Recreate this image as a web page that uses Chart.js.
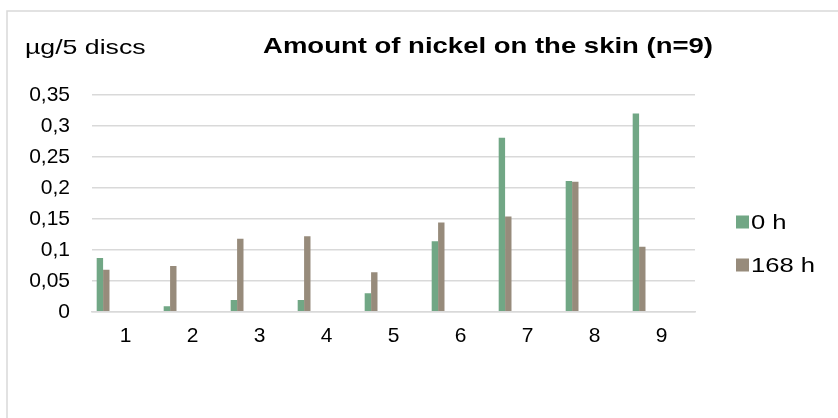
<!DOCTYPE html>
<html>
<head>
<meta charset="utf-8">
<script src="https://cdn.jsdelivr.net/npm/chart.js@4"></script>
<style>
  html, body { margin: 0; padding: 0; background: #fff; overflow: hidden; }
  canvas { display: block; }
</style>
</head>
<body>
<canvas id="nickelChart" width="838" height="418"></canvas>
<script>
// data
var categories = ['1', '2', '3', '4', '5', '6', '7', '8', '9'];
var nickel0h   = [0.087, 0.009, 0.019, 0.019, 0.030, 0.114, 0.281, 0.211, 0.320];
var nickel168h = [0.068, 0.074, 0.118, 0.122, 0.064, 0.144, 0.154, 0.210, 0.105];
var yTicks     = [0, 0.05, 0.1, 0.15, 0.2, 0.25, 0.3, 0.35];
var seriesNames  = ['0 h', '168 h'];
var seriesColors = ['#71a785', '#978b7b'];

var FONT = '"Liberation Sans", Arial, sans-serif';

// the original sheet keeps room for more series, bars sit on the left of each slot
var emptySlots = 7;

var datasets = [
    { label: seriesNames[0], data: nickel0h, backgroundColor: seriesColors[0] },
    { label: seriesNames[1], data: nickel168h, backgroundColor: seriesColors[1] }
];
for (var i = 0; i < emptySlots; i++) {
    datasets.push({ label: '', data: categories.map(function () { return null; }), backgroundColor: 'rgba(0,0,0,0)' });
}

function fmtComma(v) {
    return String(Math.round(v * 100) / 100).replace('.', ',');
}

// white page + light frame (only left and top edges are inside the picture)
var framePlugin = {
    id: 'frame',
    beforeDraw: function (chart) {
        var ctx = chart.ctx;
        ctx.save();
        ctx.fillStyle = '#ffffff';
        ctx.fillRect(0, 0, chart.width, chart.height);
        ctx.strokeStyle = '#d9d9d9';
        ctx.lineWidth = 1.5;
        ctx.beginPath();
        ctx.moveTo(7, chart.height);
        ctx.lineTo(7, 11);
        ctx.lineTo(chart.width, 11);
        ctx.stroke();
        ctx.restore();
    }
};

// title, unit text and the legend on the right
var textPlugin = {
    id: 'texts',
    afterDraw: function (chart) {
        var ctx = chart.ctx;
        ctx.save();
        ctx.fillStyle = '#000';
        ctx.textBaseline = 'middle';

        ctx.font = '21px ' + FONT;
        ctx.textAlign = 'left';
        ctx.save();
        ctx.translate(25, 48);
        ctx.scale(1.27, 1);
        ctx.fillText('\u00b5g/5 discs', 0, 0);
        ctx.restore();

        ctx.font = 'bold 22px ' + FONT;
        ctx.textAlign = 'center';
        ctx.save();
        ctx.translate(488, 47);
        ctx.scale(1.25, 1);
        ctx.fillText('Amount of nickel on the skin (n=9)', 0, 0);
        ctx.restore();

        ctx.font = '21px ' + FONT;
        ctx.textAlign = 'left';
        var legY = [222, 265];
        chart.data.datasets.forEach(function (ds, idx) {
            if (!ds.label) return;
            ctx.fillStyle = ds.backgroundColor;
            ctx.fillRect(736, legY[idx] - 6.5, 13, 13);
            ctx.fillStyle = '#000';
            ctx.save();
            ctx.translate(751, legY[idx] + 1);
            ctx.scale(1.22, 1);
            ctx.fillText(ds.label, 0, 0);
            ctx.restore();
        });
        ctx.restore();
    }
};

var ctx = document.getElementById('nickelChart').getContext('2d');
new Chart(ctx, {
    type: 'bar',
    data: { labels: categories, datasets: datasets },
    options: {
        responsive: false,
        animation: false,
        devicePixelRatio: 1,
        layout: { padding: { left: 0, right: 143, top: 95, bottom: 57 } },
        datasets: { bar: { categoryPercentage: 0.86, barPercentage: 1 } },
        plugins: { legend: { display: false }, tooltip: { enabled: false }, title: { display: false } },
        scales: {
            x: {
                grid: { display: false, drawTicks: false },
                border: { display: true, color: '#d9d9d9', width: 1.5 },
                ticks: { color: '#000', padding: 12, font: { family: FONT, size: 21 } }
            },
            y: {
                min: yTicks[0],
                max: yTicks[yTicks.length - 1],
                afterFit: function (scale) { scale.width = 92; },
                afterBuildTicks: function (scale) {
                    scale.ticks = yTicks.map(function (v) { return { value: v }; });
                },
                grid: { color: '#d9d9d9', lineWidth: 1.5, drawTicks: false },
                border: { display: false },
                ticks: {
                    color: '#000', padding: 22,
                    font: { family: FONT, size: 21 },
                    callback: function (v) { return fmtComma(v); }
                }
            }
        }
    },
    plugins: [framePlugin, textPlugin]
});
</script>
</body>
</html>
